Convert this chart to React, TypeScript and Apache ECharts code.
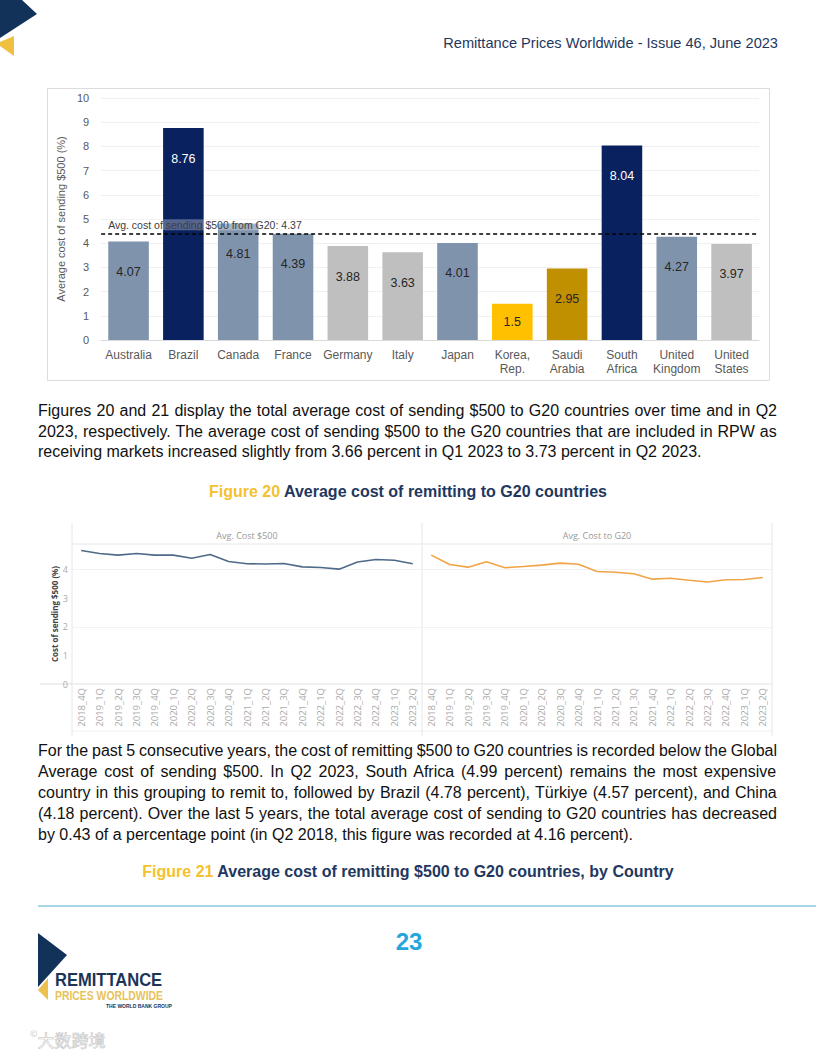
import React, { useEffect, useRef } from 'react';
import * as echarts from 'echarts';

// ---------- Figure (bar) data ----------
const countries = [
  'Australia', 'Brazil', 'Canada', 'France', 'Germany', 'Italy', 'Japan',
  'Korea,\nRep.', 'Saudi\nArabia', 'South\nAfrica', 'United\nKingdom', 'United\nStates',
];
const costs = [4.07, 8.76, 4.81, 4.39, 3.88, 3.63, 4.01, 1.5, 2.95, 8.04, 4.27, 3.97];
const countryGroup = ['slate', 'navy', 'slate', 'slate', 'grey', 'grey', 'slate', 'yellow', 'gold', 'navy', 'slate', 'grey'];
const g20Average = 4.37;

// ---------- Figure 20 (lines) data ----------
const quarters = [
  '2018_4Q', '2019_1Q', '2019_2Q', '2019_3Q', '2019_4Q', '2020_1Q', '2020_2Q', '2020_3Q', '2020_4Q',
  '2021_1Q', '2021_2Q', '2021_3Q', '2021_4Q', '2022_1Q', '2022_2Q', '2022_3Q', '2022_4Q', '2023_1Q', '2023_2Q',
];
const avgCost500 = [4.67, 4.57, 4.51, 4.57, 4.51, 4.51, 4.40, 4.53, 4.29, 4.21, 4.20, 4.22, 4.10, 4.08, 4.02, 4.27, 4.36, 4.33, 4.21];
const avgCostG20 = [4.51, 4.18, 4.09, 4.28, 4.07, 4.11, 4.16, 4.23, 4.19, 3.94, 3.91, 3.86, 3.67, 3.70, 3.63, 3.57, 3.65, 3.66, 3.73];
const panelTitles = ['Avg. Cost $500', 'Avg. Cost to G20'];

// ---------- Page text ----------
const headerText = 'Remittance Prices Worldwide - Issue 46, June 2023';
const para1 = [
  'Figures 20 and 21 display the total average cost of sending $500 to G20 countries over time and in Q2',
  '2023, respectively. The average cost of sending $500 to the G20 countries that are included in RPW as',
  'receiving markets increased slightly from 3.66 percent in Q1 2023 to 3.73 percent in Q2 2023.',
];
const para2 = [
  'For the past 5 consecutive years, the cost of remitting $500 to G20 countries is recorded below the Global',
  'Average cost of sending $500. In Q2 2023, South Africa (4.99 percent) remains the most expensive',
  'country in this grouping to remit to, followed by Brazil (4.78 percent), Türkiye (4.57 percent), and China',
  '(4.18 percent). Over the last 5 years, the total average cost of sending to G20 countries has decreased',
  'by 0.43 of a percentage point (in Q2 2018, this figure was recorded at 4.16 percent).',
];

const palette: Record<string, string> = {
  slate: '#7f93ad',
  navy: '#0a2160',
  grey: '#bfbfbf',
  yellow: '#ffc000',
  gold: '#c09000',
};

function EChart({ option, style }: { option: any; style: React.CSSProperties }) {
  const ref = useRef<HTMLDivElement>(null);
  useEffect(() => {
    const chart = echarts.init(ref.current!, null, { renderer: 'svg' });
    chart.setOption(option);
    return () => chart.dispose();
  }, []);
  return <div ref={ref} style={style} />;
}

const barOption = {
  animation: false,
  textStyle: { fontFamily: '"Liberation Sans", Arial, sans-serif' },
  graphic: [
    { type: 'rect', shape: { x: 0.5, y: 0.5, width: 722, height: 292 }, style: { fill: 'none', stroke: '#dcdcdc', lineWidth: 1 } },
  ],
  grid: { left: 49, top: 10, width: 663, height: 242 },
  xAxis: {
    type: 'category',
    data: countries,
    axisLine: { lineStyle: { color: '#d9d9d9' } },
    axisTick: { show: false },
    axisLabel: { color: '#595959', fontSize: 12, lineHeight: 14, margin: 8, interval: 0 },
  },
  yAxis: {
    type: 'value',
    min: 0,
    max: 10,
    interval: 1,
    name: 'Average cost of sending $500 (%)',
    nameLocation: 'middle',
    nameGap: 26,
    nameTextStyle: { color: '#595959', fontSize: 11 },
    axisLabel: { color: '#595959', fontSize: 11, margin: 12 },
    splitLine: { lineStyle: { color: '#f0f0f0' } },
  },
  series: [
    {
      type: 'bar',
      barCategoryGap: '26%',
      data: costs.map((v, i) => ({
        value: v,
        itemStyle: { color: palette[countryGroup[i]] },
        label: {
          show: true,
          position: countryGroup[i] === 'yellow' ? 'inside' : 'insideTop',
          distance: 24,
          fontSize: 12.5,
          color: countryGroup[i] === 'navy' ? '#ffffff' : '#262626',
        },
      })),
      markLine: {
        silent: true,
        symbol: 'none',
        lineStyle: { color: '#000000', type: [4, 3], width: 1.5 },
        label: {
          show: true,
          position: 'insideStartTop',
          formatter: 'Avg. cost of sending $500 from G20: ' + g20Average,
          color: '#404040',
          fontSize: 10.5,
          distance: [7, 4],
          backgroundColor: 'rgba(255,255,255,0.3)',
        },
        data: [{ yAxis: g20Average }],
      },
    },
  ],
};

const lineAxisFont = '"Open Sans", "Noto Sans", sans-serif';
const gridLine = '#e6e6e6';

const lineOption = {
  animation: false,
  textStyle: { fontFamily: lineAxisFont },
  graphic: [
    { type: 'line', shape: { x1: 32, y1: 3, x2: 32, y2: 216 }, style: { stroke: gridLine, lineWidth: 1 } },
    { type: 'line', shape: { x1: 382, y1: 3, x2: 382, y2: 216 }, style: { stroke: gridLine, lineWidth: 1 } },
    { type: 'line', shape: { x1: 732, y1: 3, x2: 732, y2: 216 }, style: { stroke: gridLine, lineWidth: 1 } },
    { type: 'line', shape: { x1: 32, y1: 24, x2: 732, y2: 24 }, style: { stroke: gridLine, lineWidth: 1 } },
    { type: 'line', shape: { x1: 0, y1: 164, x2: 732, y2: 164 }, style: { stroke: '#dddddd', lineWidth: 1 } },
    { type: 'line', shape: { x1: 32, y1: 211, x2: 732, y2: 211 }, style: { stroke: '#f0f0f0', lineWidth: 1 } },
    { type: 'text', x: 207, y: 15, style: { text: panelTitles[0], fill: '#999999', fontSize: 9, fontFamily: lineAxisFont, align: 'center', verticalAlign: 'middle' } },
    { type: 'text', x: 557, y: 15, style: { text: panelTitles[1], fill: '#999999', fontSize: 9, fontFamily: lineAxisFont, align: 'center', verticalAlign: 'middle' } },
  ],
  grid: [
    { left: 32, top: 24, width: 350, height: 140 },
    { left: 382, top: 24, width: 350, height: 140 },
  ],
  xAxis: [0, 1].map((g) => ({
    type: 'category',
    gridIndex: g,
    data: quarters,
    axisLine: { show: false },
    axisTick: { show: false },
    axisLabel: { rotate: 90, interval: 0, fontSize: 9.5, color: '#aaaaaa', margin: 4 },
  })),
  yAxis: [
    {
      type: 'value', gridIndex: 0, min: 0, max: 4.9, interval: 1,
      name: 'Cost of sending $500 (%)', nameLocation: 'middle', nameGap: 13,
      nameTextStyle: { color: '#444444', fontSize: 8, fontWeight: 'bold' },
      axisLabel: { fontSize: 9, color: '#aaaaaa', margin: 4, showMaxLabel: false },
      axisLine: { show: false }, axisTick: { show: false }, splitLine: { show: false },
    },
    {
      type: 'value', gridIndex: 0, min: 0, max: 4.9, interval: 2,
      axisLabel: { show: false }, axisLine: { show: false }, axisTick: { show: false },
      splitLine: { lineStyle: { color: '#f2f2f2' } },
    },
    {
      type: 'value', gridIndex: 1, min: 0, max: 4.9, interval: 2,
      axisLabel: { show: false }, axisLine: { show: false }, axisTick: { show: false },
      splitLine: { lineStyle: { color: '#f2f2f2' } },
    },
  ],
  series: [
    {
      type: 'line', xAxisIndex: 0, yAxisIndex: 0, data: avgCost500, symbol: 'none',
      lineStyle: { color: '#4f6a88', width: 1.6 },
    },
    {
      type: 'line', xAxisIndex: 1, yAxisIndex: 2, data: avgCostG20, symbol: 'none',
      lineStyle: { color: '#f0a446', width: 1.6 },
    },
  ],
};

const bodyFont = '"Liberation Sans", Arial, sans-serif';
const bodySize = 16;
const textWidth = 739;

let measureCtx: CanvasRenderingContext2D | null = null;
function measure(text: string, font: string) {
  if (!measureCtx) measureCtx = document.createElement('canvas').getContext('2d');
  if (!measureCtx) return 0;
  measureCtx.font = font;
  return measureCtx.measureText(text).width;
}

function ParaLine({ text, y, last }: { text: string; y: number; last: boolean }) {
  const w = measure(text, `${bodySize}px "Liberation Sans"`);
  const spaces = (text.match(/ /g) || []).length;
  const ws = last || !w ? 0 : (textWidth - w) / spaces;
  return (
    <div
      style={{
        position: 'absolute',
        left: 38,
        top: y - 10,
        height: 20,
        lineHeight: '20px',
        fontSize: bodySize,
        fontFamily: bodyFont,
        color: '#111111',
        whiteSpace: 'nowrap',
        wordSpacing: ws + 'px',
      }}
    >
      {text}
    </div>
  );
}

function Caption({ num, text, y }: { num: string; text: string; y: number }) {
  return (
    <div style={{ position: 'absolute', left: 0, top: y - 10, width: 816, height: 20, textAlign: 'center', lineHeight: '20px' }}>
      <span
        style={{
          display: 'inline-block',
          fontFamily: bodyFont,
          fontWeight: 'bold',
          fontSize: 16,
          whiteSpace: 'nowrap',
        }}
      >
        <span style={{ color: '#f3c22e' }}>{num}</span>
        <span style={{ color: '#1f3860' }}> {text}</span>
      </span>
    </div>
  );
}

export default function App() {
  const p1y = [411, 431.5, 452];
  const p2y = [751, 771.5, 792.5, 813.5, 834.5];
  return (
    <div style={{ position: 'absolute', left: 0, top: 0, width: 816, height: 1056, background: '#ffffff', overflow: 'hidden' }}>
      {/* top-left logo shape */}
      <svg width={60} height={70} style={{ position: 'absolute', left: 0, top: 0 }}>
        <polygon points="0,0 22,0 37,14 0,38" fill="#13325a" />
        <polygon points="14,36 14,56 0,46 0,42" fill="#f0c040" />
      </svg>
      {/* header */}
      <div
        style={{
          position: 'absolute', right: 38, top: 33, height: 20, lineHeight: '20px', fontSize: 14.6,
          fontFamily: bodyFont, color: '#1f3860', whiteSpace: 'nowrap',
        }}
      >
        {headerText}
      </div>

      <EChart option={barOption} style={{ position: 'absolute', left: 47, top: 88, width: 723, height: 293 }} />

      {para1.map((t, i) => (
        <ParaLine key={'a' + i} text={t} y={p1y[i]} last={i === para1.length - 1} />
      ))}

      <Caption num="Figure 20" text="Average cost of remitting to G20 countries" y={492} />

      <EChart option={lineOption} style={{ position: 'absolute', left: 40, top: 520, width: 750, height: 220 }} />

      {para2.map((t, i) => (
        <ParaLine key={'b' + i} text={t} y={p2y[i]} last={i === para2.length - 1} />
      ))}

      <Caption num="Figure 21" text="Average cost of remitting $500 to G20 countries, by Country" y={872} />

      {/* footer rule */}
      <div style={{ position: 'absolute', left: 38, top: 905, width: 778, height: 1.5, background: '#a9d6e6' }} />

      {/* page number */}
      <div
        style={{
          position: 'absolute', left: 0, width: 816, top: 927, height: 30, lineHeight: '30px', textAlign: 'center',
          fontFamily: bodyFont, fontWeight: 'bold', fontSize: 24, color: '#27a6de',
        }}
      >
        <span style={{ display: 'inline-block', transform: 'translateX(1px)' }}>23</span>
      </div>

      {/* bottom logo */}
      <svg width={60} height={80} style={{ position: 'absolute', left: 30, top: 925 }}>
        <polygon points="8,8 37,30 8,62" fill="#13325a" />
        <polygon points="8,65 18,53 18,75" fill="#eec050" />
      </svg>
      <div
        style={{
          position: 'absolute', left: 55, top: 971, height: 18, lineHeight: '18px', fontSize: 19, fontWeight: 'bold',
          fontFamily: bodyFont, color: '#1c3557', whiteSpace: 'nowrap', transform: 'scaleX(0.87)', transformOrigin: 'left center',
        }}
      >
        REMITTANCE
      </div>
      <div
        style={{
          position: 'absolute', left: 55, top: 990, height: 11, lineHeight: '11px', fontSize: 13.5, fontWeight: 'bold',
          fontFamily: bodyFont, color: '#e8c25a', whiteSpace: 'nowrap', transform: 'scaleX(0.77)', transformOrigin: 'left center',
        }}
      >
        PRICES WORLDWIDE
      </div>
      <div
        style={{
          position: 'absolute', left: 106, top: 1003.5, height: 5, lineHeight: '5px', fontSize: 5, fontWeight: 'bold',
          fontFamily: bodyFont, color: '#1c3557', whiteSpace: 'nowrap',
        }}
      >
        THE WORLD BANK GROUP
      </div>

      {/* watermark */}
      <div
        style={{
          position: 'absolute', left: 30, top: 1028, height: 24, lineHeight: '24px', whiteSpace: 'nowrap',
          fontFamily: '"Noto Sans CJK SC", sans-serif', color: '#ffffff',
        }}
      >
        <span style={{ fontSize: 9, verticalAlign: 'top', lineHeight: '12px', color: '#cccccc' }}>©</span>
        <span style={{ fontSize: 17, WebkitTextStroke: '0.6px #c4c4c4' } as any}>大数跨境</span>
      </div>
    </div>
  );
}
